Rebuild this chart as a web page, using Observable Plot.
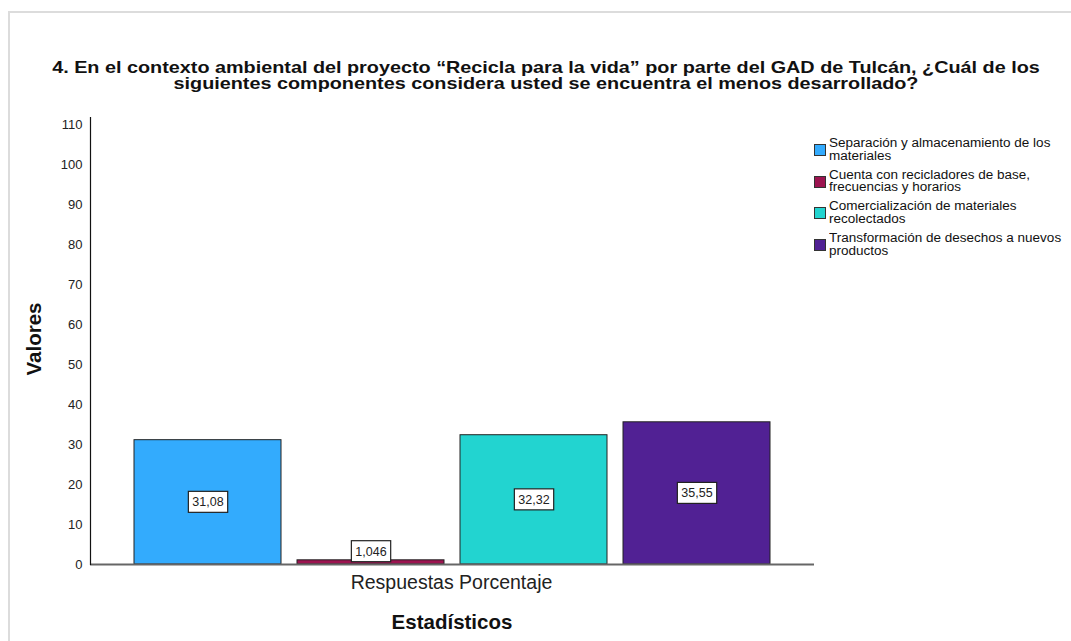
<!DOCTYPE html>
<html>
<head>
<meta charset="utf-8">
<script src="https://cdn.jsdelivr.net/npm/d3@7"></script>
<script src="https://cdn.jsdelivr.net/npm/@observablehq/plot@0.6"></script>
<style>
  html, body { margin: 0; padding: 0; background: #fff; }
  #wrap { position: relative; width: 1071px; height: 641px; overflow: hidden; font-family: "Liberation Sans", Arial, sans-serif; color: #111; }
  #border { position: absolute; left: 8px; top: 11px; width: 1100px; height: 700px; border: 2px solid #dcdcdc; box-sizing: border-box; }
  #chart { position: absolute; left: 0; top: 0; }
  #title { position: absolute; left: 0; width: 1092px; top: 59px; text-align: center; font-weight: bold; font-size: 16.5px; line-height: 16px; transform: scaleX(1.2); transform-origin: 546px 0; }
  #legend { position: absolute; left: 814px; top: 137px; font-size: 12.5px; line-height: 12.5px; }
  .item { display: flex; align-items: flex-start; height: 31.7px; white-space: nowrap; }
  .sw { width: 12px; height: 12px; box-sizing: border-box; border: 1px solid #333; margin-top: 7px; margin-right: 3px; flex: none; }
  .lt { transform: scaleX(1.08); transform-origin: 0 0; }
  #xlabel { position: absolute; left: 0; width: 903px; top: 571px; text-align: center; font-size: 19.5px; color: #222; }
  #xtitle { position: absolute; left: 0; width: 904px; top: 610px; text-align: center; font-size: 20.5px; font-weight: bold; }
  #ytitle { position: absolute; left: 34px; top: 339px; transform: translate(-50%, -50%) rotate(-90deg); font-size: 20.5px; font-weight: bold; white-space: nowrap; }
</style>
</head>
<body>
<div id="wrap">
  <div id="border"></div>
  <div id="chart"></div>
  <div id="title"></div>
  <div id="legend"></div>
  <div id="xlabel"></div>
  <div id="xtitle"></div>
  <div id="ytitle"></div>
</div>
<script>
const titleLines = [
  "4. En el contexto ambiental del proyecto \u201CRecicla para la vida\u201D por parte del GAD de Tulc\u00E1n, \u00BFCu\u00E1l de los",
  "siguientes componentes considera usted se encuentra el menos desarrollado?"
];
const categories = [
  "Separación y almacenamiento de los materiales",
  "Cuenta con recicladores de base, frecuencias y horarios",
  "Comercialización de materiales recolectados",
  "Transformación de desechos a nuevos productos"
];
const legendLines = [
  ["Separación y almacenamiento de los", "materiales"],
  ["Cuenta con recicladores de base,", "frecuencias y horarios"],
  ["Comercialización de materiales", "recolectados"],
  ["Transformación de desechos a nuevos", "productos"]
];
const values = [31.08, 1.046, 32.32, 35.55];
const colors = ["#33abfd", "#9c1450", "#22d4d0", "#512194"];
const yTicks = [0, 10, 20, 30, 40, 50, 60, 70, 80, 90, 100, 110];
const xCategoryLabel = "Respuestas Porcentaje";
const xAxisTitle = "Estadísticos";
const yAxisTitle = "Valores";

const data = categories.map((c, i) => ({cat: c, v: values[i]}));
const fmt = v => String(v).replace(".", ",");

const plot = Plot.plot({
  width: 1071,
  height: 641,
  marginLeft: 90,
  marginRight: 257,
  marginTop: 117,
  marginBottom: 77,
  style: {fontFamily: "'Liberation Sans', Arial, sans-serif", fontSize: "12px", color: "#111", background: "transparent"},
  x: {domain: categories, paddingInner: 0.1, paddingOuter: 0.27, axis: null},
  y: {domain: [0, 111.75], axis: null},
  color: {domain: categories, range: colors},
  marks: [
    Plot.barY(data, {x: "cat", y: "v", fill: "cat", stroke: "#222", strokeWidth: 1}),
    Plot.ruleY([0], {stroke: "#666", strokeWidth: 2}),
    Plot.frame({anchor: "left", stroke: "#111", strokeWidth: 1.2}),
    Plot.axisY(yTicks, {tickSize: 0, tickPadding: 8, fontSize: 13, fill: "#222", tickFormat: d => d, label: null}),
    Plot.text(data, {x: "cat", y: d => Math.max(d.v / 2, 3.2), text: d => fmt(d.v), fontSize: 12.5, fill: "#222", className: "vlabel"})
  ]
});
document.getElementById("chart").appendChild(plot);

// white boxes behind value labels
const svg = d3.select(plot);
let labelTexts = svg.selectAll(".vlabel text");
if (labelTexts.empty()) labelTexts = svg.selectAll('g[aria-label="text"] text');
labelTexts.each(function() {
  const b = this.getBBox();
  const pad = 4;
  const r = d3.select(this.parentNode).insert("rect", () => this)
    .attr("x", b.x - pad).attr("y", b.y - 4)
    .attr("width", b.width + 2 * pad).attr("height", b.height + 7)
    .attr("fill", "#fff").attr("stroke", "#222").attr("stroke-width", 1.2);
  const tr = this.getAttribute("transform");
  if (tr) r.attr("transform", tr);
});

document.getElementById("title").innerHTML = titleLines.join("<br>");
document.getElementById("xlabel").textContent = xCategoryLabel;
document.getElementById("xtitle").textContent = xAxisTitle;
document.getElementById("ytitle").textContent = yAxisTitle;
const leg = document.getElementById("legend");
legendLines.forEach((lines, i) => {
  const item = document.createElement("div");
  item.className = "item";
  const sw = document.createElement("div");
  sw.className = "sw";
  sw.style.background = colors[i];
  const t = document.createElement("div");
  t.className = "lt";
  t.innerHTML = lines.join("<br>");
  item.appendChild(sw);
  item.appendChild(t);
  leg.appendChild(item);
});
</script>
</body>
</html>
